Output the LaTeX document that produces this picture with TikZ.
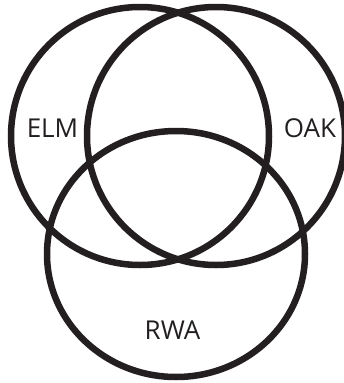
\documentclass[tikz,border=0pt]{standalone}
\usepackage{fontspec}
\setmainfont{Open Sans}
\usetikzlibrary{positioning}
\definecolor{ink}{HTML}{231F20}

\begin{document}
\begin{tikzpicture}[x=1pt,y=-1pt,line width=6.5pt,
    setlabel/.style={text=ink,inner sep=0pt,font=\fontsize{26}{30}\selectfont}]
  \useasboundingbox (0,0) rectangle (343,383);
  \draw[ink] (140,136) circle (129);
  \draw[ink] (216,136) circle (129);
  \draw[ink] (176,254) ellipse (129 and 123);
  \node[setlabel] (elm) at (52.5,128) {ELM};
  \node[setlabel] (oak) at (310,128) {OAK};
  \node[setlabel] (rwa) at (172.5,330.5) {RWA};
\end{tikzpicture}
\end{document}
